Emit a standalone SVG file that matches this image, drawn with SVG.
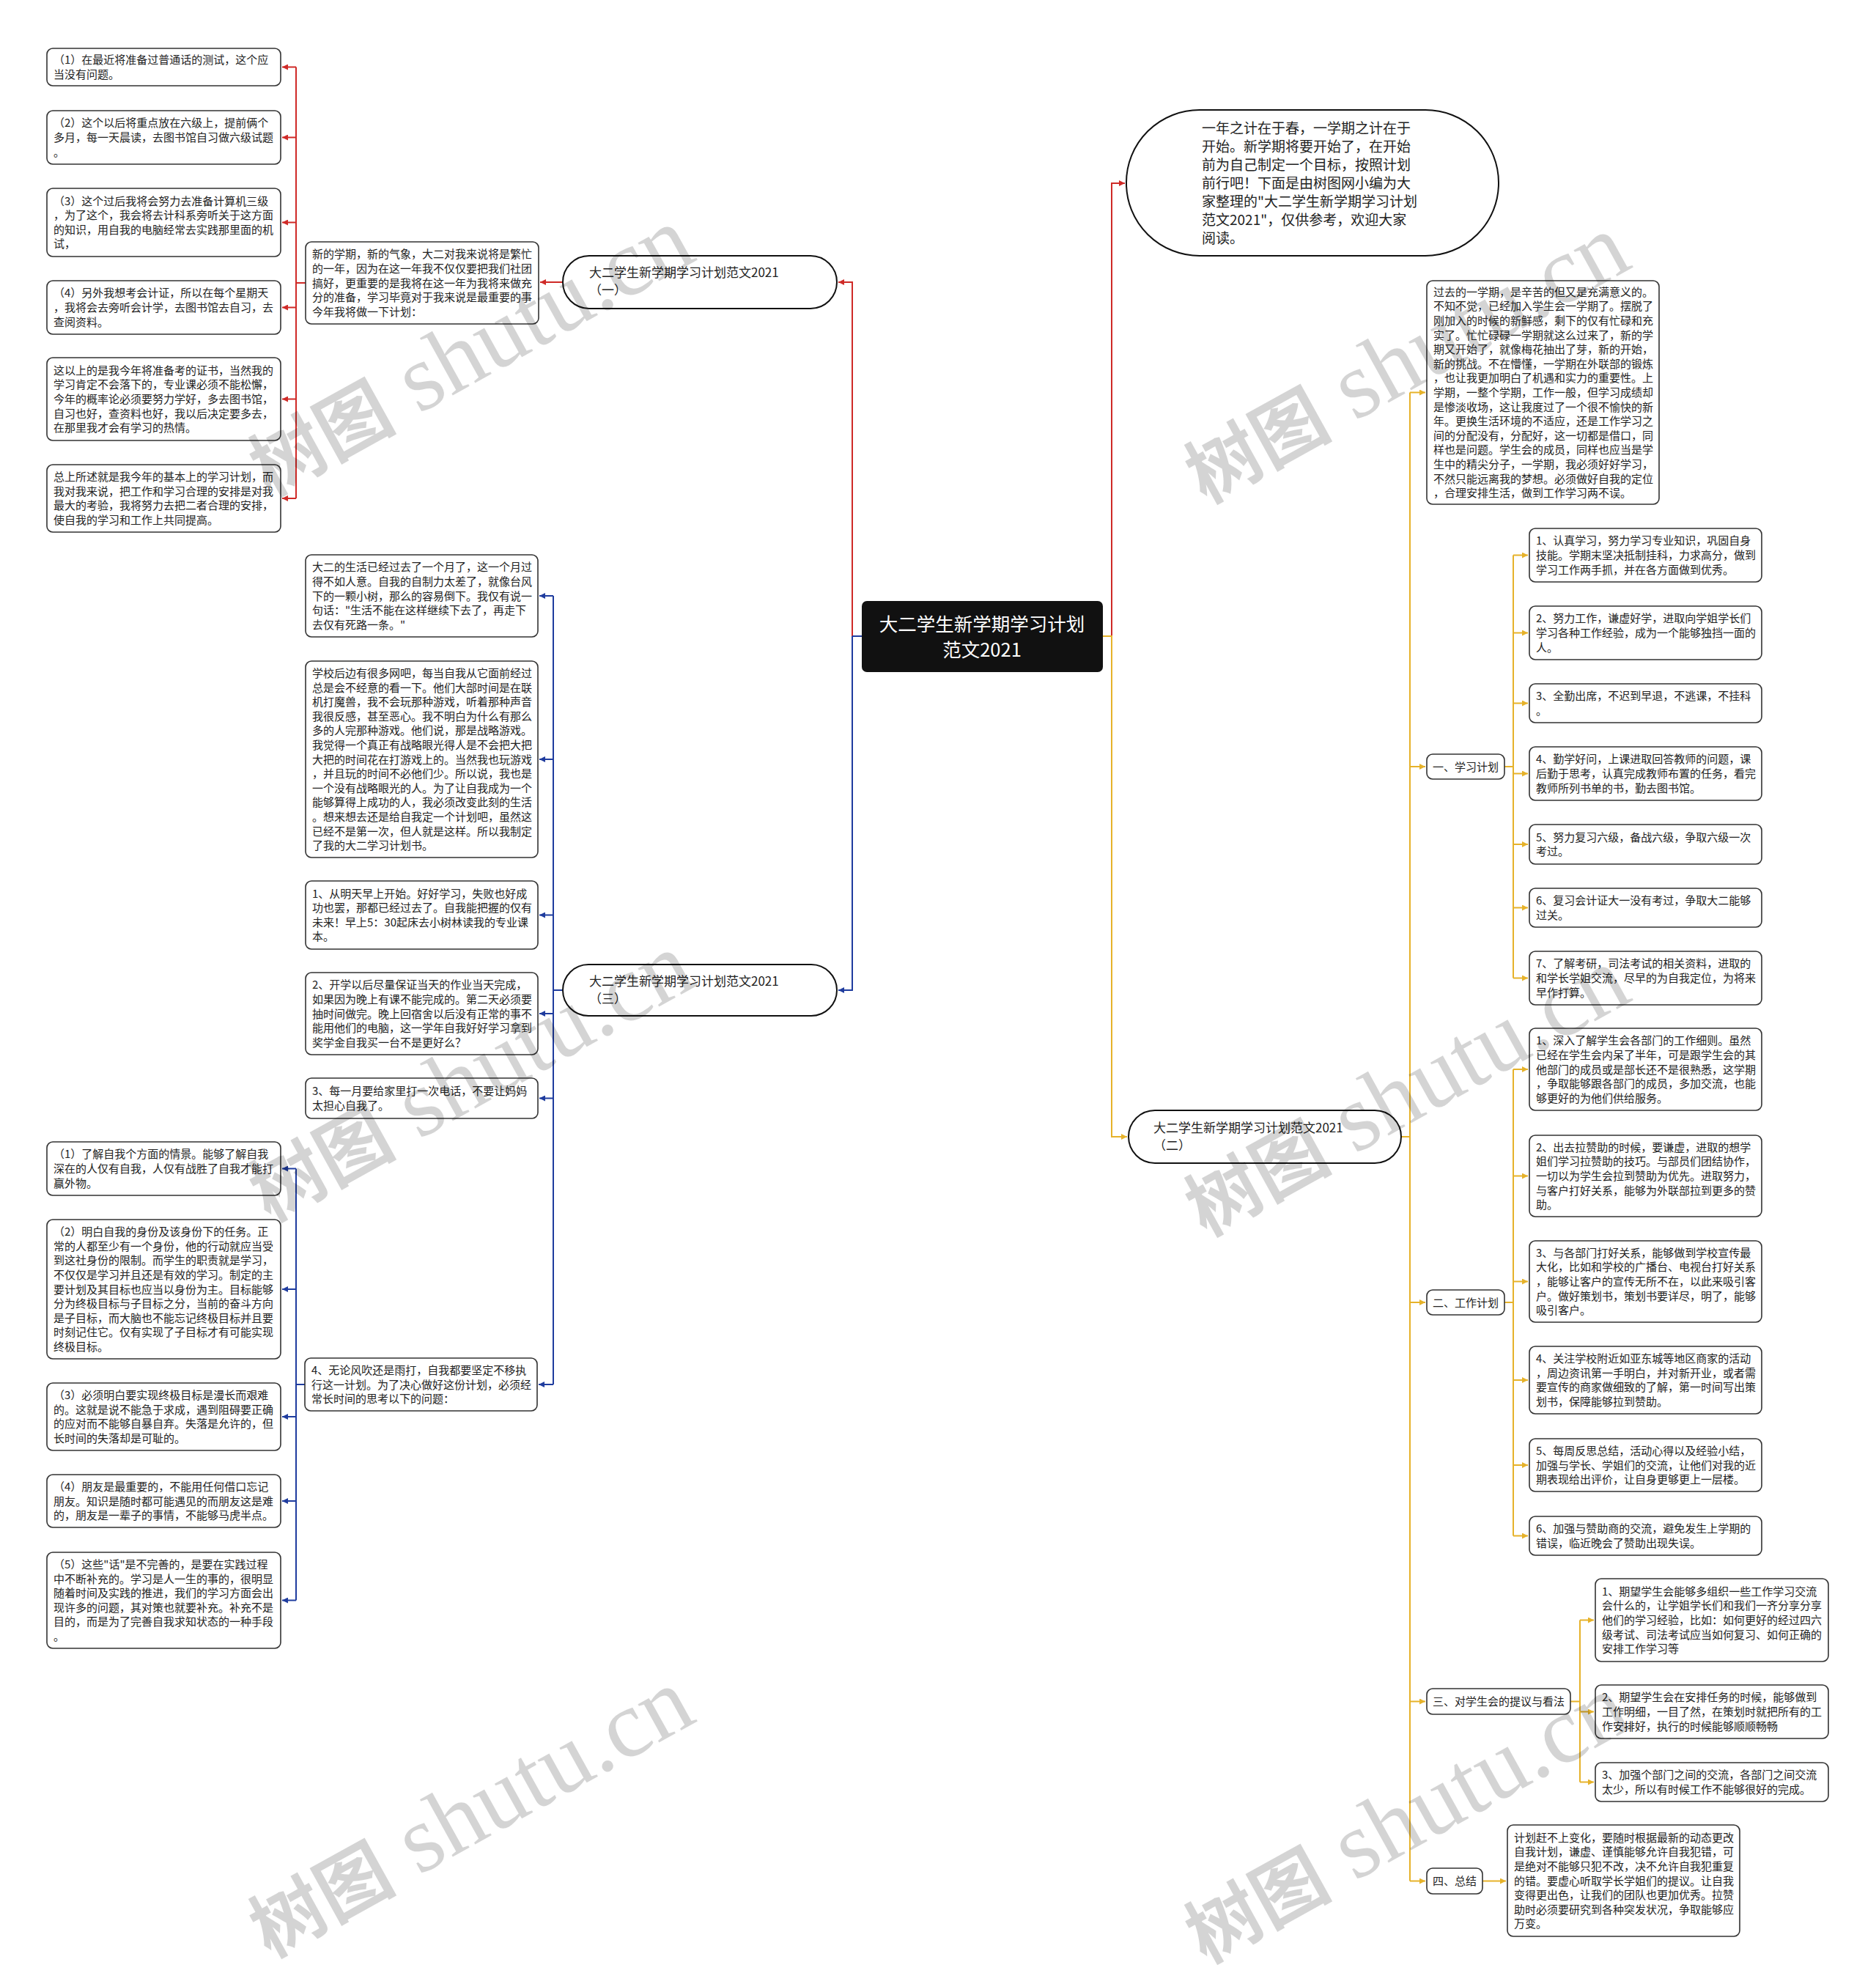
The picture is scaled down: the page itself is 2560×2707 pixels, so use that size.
<svg xmlns="http://www.w3.org/2000/svg" width="2560" height="2707" viewBox="0 0 2560 2707">
<style>
.bg{fill:#ffffff}
.box{fill:#ffffff;stroke:#333333;stroke-width:1.6}
.pill{fill:#ffffff;stroke:#111111;stroke-width:2}
.t{font-family:"Noto Sans CJK SC","Noto Sans",sans-serif;font-size:15px;fill:#222222}
.tb{font-family:"Noto Sans CJK SC","Noto Sans",sans-serif;font-size:17px;fill:#222222}
.ti{font-family:"Noto Sans CJK SC","Noto Sans",sans-serif;font-size:19px;fill:#222222}
.tc{font-family:"Noto Sans CJK SC","Noto Sans",sans-serif;font-size:25.5px;fill:#ffffff;text-anchor:middle}
.red{fill:none;stroke:#cf2a27;stroke-width:2}
.blue{fill:none;stroke:#1f3c9e;stroke-width:2}
.gold{fill:none;stroke:#e6b22a;stroke-width:2}
.ar{marker-end:url(#mr)}
.ab{marker-end:url(#mb)}
.ag{marker-end:url(#mg)}
.wm{fill:#000000;fill-opacity:0.17}
.wmc{font-family:"Noto Sans CJK SC",sans-serif;font-size:100px;font-weight:bold}
.wml{font-family:"Liberation Serif",serif;font-size:130px}
</style>
<defs>
<marker id="mr" viewBox="0 0 10 10" refX="10" refY="5" markerWidth="9" markerHeight="8" markerUnits="userSpaceOnUse" orient="auto"><path d="M0,0 L10,5 L0,10 z" fill="#cf2a27"/></marker>
<marker id="mb" viewBox="0 0 10 10" refX="10" refY="5" markerWidth="9" markerHeight="8" markerUnits="userSpaceOnUse" orient="auto"><path d="M0,0 L10,5 L0,10 z" fill="#1f3c9e"/></marker>
<marker id="mg" viewBox="0 0 10 10" refX="10" refY="5" markerWidth="9" markerHeight="8" markerUnits="userSpaceOnUse" orient="auto"><path d="M0,0 L10,5 L0,10 z" fill="#e6b22a"/></marker>
</defs>
<rect class="bg" x="0" y="0" width="2560" height="2707"/>

<g id="connectors">
<!-- red group -->
<path class="red ar" d="M1163,868 V385 H1144"/>
<path class="red ar" d="M768,385 H737"/>
<path class="red" d="M417,386 H404 M404,91.5 V680"/>
<path class="red ar" d="M404,91.5 H385"/>
<path class="red ar" d="M404,187.5 H385"/>
<path class="red ar" d="M404,303.5 H385"/>
<path class="red ar" d="M404,419.5 H385"/>
<path class="red ar" d="M404,544.5 H385"/>
<path class="red ar" d="M404,680 H385"/>
<path class="red ar" d="M1517,868 V250 H1535"/>
<!-- blue group -->
<path class="blue" d="M1176,868 H1163"/>
<path class="blue ab" d="M1163,868 V1351 H1144"/>
<path class="blue" d="M768,1351 H755 M755,813 V1889"/>
<path class="blue ab" d="M755,813 H736"/>
<path class="blue ab" d="M755,1036 H736"/>
<path class="blue ab" d="M755,1248.5 H736"/>
<path class="blue ab" d="M755,1383 H736"/>
<path class="blue ab" d="M755,1498.5 H736"/>
<path class="blue ab" d="M755,1889 H735"/>
<path class="blue" d="M416,1889 H404 M404,1594.5 V2183.5"/>
<path class="blue ab" d="M404,1594.5 H385"/>
<path class="blue ab" d="M404,1759 H385"/>
<path class="blue ab" d="M404,1933 H385"/>
<path class="blue ab" d="M404,2048 H385"/>
<path class="blue ab" d="M404,2183.5 H385"/>
<!-- gold group -->
<path class="gold ag" d="M1505,868 H1517 V1551 H1538"/>
<path class="gold" d="M1912,1551 H1924 M1924,535.5 V2566.5"/>
<path class="gold ag" d="M1924,535.5 H1945"/>
<path class="gold ag" d="M1924,1046 H1945"/>
<path class="gold ag" d="M1924,1777 H1945"/>
<path class="gold ag" d="M1924,2321.5 H1945"/>
<path class="gold ag" d="M1924,2566.5 H1945"/>
<path class="gold" d="M2053,1046 H2065 M2065,757.5 V1334.5"/>
<path class="gold ag" d="M2065,757.5 H2085"/>
<path class="gold ag" d="M2065,863.5 H2085"/>
<path class="gold ag" d="M2065,959.5 H2085"/>
<path class="gold ag" d="M2065,1055.5 H2085"/>
<path class="gold ag" d="M2065,1152 H2085"/>
<path class="gold ag" d="M2065,1238.5 H2085"/>
<path class="gold ag" d="M2065,1334.5 H2085"/>
<path class="gold" d="M2053,1777 H2065 M2065,1459 V2095.5"/>
<path class="gold ag" d="M2065,1459 H2085"/>
<path class="gold ag" d="M2065,1604.5 H2085"/>
<path class="gold ag" d="M2065,1748.5 H2085"/>
<path class="gold ag" d="M2065,1883 H2085"/>
<path class="gold ag" d="M2065,1999 H2085"/>
<path class="gold ag" d="M2065,2095.5 H2085"/>
<path class="gold" d="M2143,2321.5 H2156 M2156,2210.5 V2431.5"/>
<path class="gold ag" d="M2156,2210.5 H2175"/>
<path class="gold ag" d="M2156,2335.5 H2175"/>
<path class="gold ag" d="M2156,2431.5 H2175"/>
<path class="gold ag" d="M2023,2566.5 H2055"/>
</g>

<g id="center">
<rect x="1176" y="820" width="329" height="97" rx="7" fill="#111111"/>
<text class="tc" x="1340" y="860.5">大二学生新学期学习计划</text>
<text class="tc" x="1340" y="895.5">范文2021</text>
</g>

<g id="branch1">
<rect class="pill" x="768" y="349" width="374" height="72" rx="36"/>
<text class="tb" x="804" y="378.3">大二学生新学期学习计划范文2021<tspan x="804" dy="24">（一）</tspan></text>
</g>
<g id="branch3">
<rect class="pill" x="768" y="1316" width="374" height="70" rx="35"/>
<text class="tb" x="804" y="1345.3">大二学生新学期学习计划范文2021<tspan x="804" dy="24">（三）</tspan></text>
</g>
<g id="branch2">
<rect class="pill" x="1540" y="1515" width="372" height="72" rx="36"/>
<text class="tb" x="1574" y="1544.5">大二学生新学期学习计划范文2021<tspan x="1574" dy="24.5">（二）</tspan></text>
</g>
<g id="intro">
<rect class="pill" x="1537" y="150" width="508" height="199" rx="100" ry="99"/>
<text class="ti" x="1640" y="182">一年之计在于春，一学期之计在于<tspan x="1640" dy="25">开始。新学期将要开始了，在开始</tspan><tspan x="1640" dy="25">前为自己制定一个目标，按照计划</tspan><tspan x="1640" dy="25">前行吧！下面是由树图网小编为大</tspan><tspan x="1640" dy="25">家整理的"大二学生新学期学习计划</tspan><tspan x="1640" dy="25">范文2021"，仅供参考，欢迎大家</tspan><tspan x="1640" dy="25">阅读。</tspan></text>
</g>

<!-- red group nodes -->
<g id="n1-intro">
<rect class="box" x="417" y="330" width="318" height="112" rx="8"/>
<text class="t" x="426" y="352.3">新的学期，新的气象，大二对我来说将是繁忙<tspan x="426" dy="19.6">的一年，因为在这一年我不仅仅要把我们社团</tspan><tspan x="426" dy="19.6">搞好，更重要的是我将在这一年为我将来做充</tspan><tspan x="426" dy="19.6">分的准备，学习毕竟对于我来说是最重要的事</tspan><tspan x="426" dy="19.6">今年我将做一下计划：</tspan></text>
</g>
<g id="n1-1">
<rect class="box" x="64" y="66" width="319" height="51" rx="8"/>
<text class="t" x="73" y="87.2">（1）在最近将准备过普通话的测试，这个应<tspan x="73" dy="19.6">当没有问题。</tspan></text>
</g>
<g id="n1-2">
<rect class="box" x="64" y="151" width="319" height="73" rx="8"/>
<text class="t" x="73" y="173.4">（2）这个以后将重点放在六级上，提前俩个<tspan x="73" dy="19.6">多月，每一天晨读，去图书馆自习做六级试题</tspan><tspan x="73" dy="19.6">。</tspan></text>
</g>
<g id="n1-3">
<rect class="box" x="64" y="257" width="319" height="93" rx="8"/>
<text class="t" x="73" y="279.6">（3）这个过后我将会努力去准备计算机三级<tspan x="73" dy="19.6">，为了这个，我会将去计科系旁听关于这方面</tspan><tspan x="73" dy="19.6">的知识，用自我的电脑经常去实践那里面的机</tspan><tspan x="73" dy="19.6">试，</tspan></text>
</g>
<g id="n1-4">
<rect class="box" x="64" y="383" width="319" height="73" rx="8"/>
<text class="t" x="73" y="405.4">（4）另外我想考会计证，所以在每个星期天<tspan x="73" dy="19.6">，我将会去旁听会计学，去图书馆去自习，去</tspan><tspan x="73" dy="19.6">查阅资料。</tspan></text>
</g>
<g id="n1-5">
<rect class="box" x="64" y="488" width="319" height="113" rx="8"/>
<text class="t" x="73" y="510.8">这以上的是我今年将准备考的证书，当然我的<tspan x="73" dy="19.6">学习肯定不会落下的，专业课必须不能松懈，</tspan><tspan x="73" dy="19.6">今年的概率论必须要努力学好，多去图书馆，</tspan><tspan x="73" dy="19.6">自习也好，查资料也好，我以后决定要多去，</tspan><tspan x="73" dy="19.6">在那里我才会有学习的热情。</tspan></text>
</g>
<g id="n1-6">
<rect class="box" x="64" y="634" width="319" height="92" rx="8"/>
<text class="t" x="73" y="656.1">总上所述就是我今年的基本上的学习计划，而<tspan x="73" dy="19.6">我对我来说，把工作和学习合理的安排是对我</tspan><tspan x="73" dy="19.6">最大的考验，我将努力去把二者合理的安排，</tspan><tspan x="73" dy="19.6">使自我的学习和工作上共同提高。</tspan></text>
</g>

<!-- blue group nodes -->
<g id="n3-1">
<rect class="box" x="417" y="757" width="317" height="112" rx="8"/>
<text class="t" x="426" y="779.3">大二的生活已经过去了一个月了，这一个月过<tspan x="426" dy="19.6">得不如人意。自我的自制力太差了，就像台风</tspan><tspan x="426" dy="19.6">下的一颗小树，那么的容易倒下。我仅有说一</tspan><tspan x="426" dy="19.6">句话："生活不能在这样继续下去了，再走下</tspan><tspan x="426" dy="19.6">去仅有死路一条。"</tspan></text>
</g>
<g id="n3-2">
<rect class="box" x="417" y="902" width="317" height="268" rx="8"/>
<text class="t" x="426" y="923.9">学校后边有很多网吧，每当自我从它面前经过<tspan x="426" dy="19.6">总是会不经意的看一下。他们大部时间是在联</tspan><tspan x="426" dy="19.6">机打魔兽，我不会玩那种游戏，听着那种声音</tspan><tspan x="426" dy="19.6">我很反感，甚至恶心。我不明白为什么有那么</tspan><tspan x="426" dy="19.6">多的人完那种游戏。他们说，那是战略游戏。</tspan><tspan x="426" dy="19.6">我觉得一个真正有战略眼光得人是不会把大把</tspan><tspan x="426" dy="19.6">大把的时间花在打游戏上的。当然我也玩游戏</tspan><tspan x="426" dy="19.6">，并且玩的时间不必他们少。所以说，我也是</tspan><tspan x="426" dy="19.6">一个没有战略眼光的人。为了让自我成为一个</tspan><tspan x="426" dy="19.6">能够算得上成功的人，我必须改变此刻的生活</tspan><tspan x="426" dy="19.6">。想来想去还是给自我定一个计划吧，虽然这</tspan><tspan x="426" dy="19.6">已经不是第一次，但人就是这样。所以我制定</tspan><tspan x="426" dy="19.6">了我的大二学习计划书。</tspan></text>
</g>
<g id="n3-3">
<rect class="box" x="417" y="1202" width="317" height="93" rx="8"/>
<text class="t" x="426" y="1224.6">1、从明天早上开始。好好学习，失败也好成<tspan x="426" dy="19.6">功也罢，那都已经过去了。自我能把握的仅有</tspan><tspan x="426" dy="19.6">未来！早上5：30起床去小树林读我的专业课</tspan><tspan x="426" dy="19.6">本。</tspan></text>
</g>
<g id="n3-4">
<rect class="box" x="417" y="1327" width="317" height="112" rx="8"/>
<text class="t" x="426" y="1349.3">2、开学以后尽量保证当天的作业当天完成，<tspan x="426" dy="19.6">如果因为晚上有课不能完成的。第二天必须要</tspan><tspan x="426" dy="19.6">抽时间做完。晚上回宿舍以后没有正常的事不</tspan><tspan x="426" dy="19.6">能用他们的电脑，这一学年自我好好学习拿到</tspan><tspan x="426" dy="19.6">奖学金自我买一台不是更好么？</tspan></text>
</g>
<g id="n3-5">
<rect class="box" x="417" y="1471" width="317" height="55" rx="8"/>
<text class="t" x="426" y="1494.2">3、每一月要给家里打一次电话，不要让妈妈<tspan x="426" dy="19.6">太担心自我了。</tspan></text>
</g>
<g id="n3-6">
<rect class="box" x="416" y="1853" width="317" height="72" rx="8"/>
<text class="t" x="425" y="1874.9">4、无论风吹还是雨打，自我都要坚定不移执<tspan x="425" dy="19.6">行这一计划。为了决心做好这份计划，必须经</tspan><tspan x="425" dy="19.6">常长时间的思考以下的问题：</tspan></text>
</g>
<g id="n3-6-1">
<rect class="box" x="64" y="1558" width="319" height="73" rx="8"/>
<text class="t" x="73" y="1580.4">（1）了解自我个方面的情景。能够了解自我<tspan x="73" dy="19.6">深在的人仅有自我，人仅有战胜了自我才能打</tspan><tspan x="73" dy="19.6">赢外物。</tspan></text>
</g>
<g id="n3-6-2">
<rect class="box" x="64" y="1664" width="319" height="190" rx="8"/>
<text class="t" x="73" y="1686.1">（2）明白自我的身份及该身份下的任务。正<tspan x="73" dy="19.6">常的人都至少有一个身份，他的行动就应当受</tspan><tspan x="73" dy="19.6">到这社身份的限制。而学生的职责就是学习，</tspan><tspan x="73" dy="19.6">不仅仅是学习并且还是有效的学习。制定的主</tspan><tspan x="73" dy="19.6">要计划及其目标也应当以身份为主。目标能够</tspan><tspan x="73" dy="19.6">分为终极目标与子目标之分，当前的奋斗方向</tspan><tspan x="73" dy="19.6">是子目标，而大脑也不能忘记终极目标并且要</tspan><tspan x="73" dy="19.6">时刻记住它。仅有实现了子目标才有可能实现</tspan><tspan x="73" dy="19.6">终极目标。</tspan></text>
</g>
<g id="n3-6-3">
<rect class="box" x="64" y="1887" width="319" height="92" rx="8"/>
<text class="t" x="73" y="1909.1">（3）必须明白要实现终极目标是漫长而艰难<tspan x="73" dy="19.6">的。这就是说不能急于求成，遇到阻碍要正确</tspan><tspan x="73" dy="19.6">的应对而不能够自暴自弃。失落是允许的，但</tspan><tspan x="73" dy="19.6">长时间的失落却是可耻的。</tspan></text>
</g>
<g id="n3-6-4">
<rect class="box" x="64" y="2012" width="319" height="72" rx="8"/>
<text class="t" x="73" y="2033.9">（4）朋友是最重要的，不能用任何借口忘记<tspan x="73" dy="19.6">朋友。知识是随时都可能遇见的而朋友这是难</tspan><tspan x="73" dy="19.6">的，朋友是一辈子的事情，不能够马虎半点。</tspan></text>
</g>
<g id="n3-6-5">
<rect class="box" x="64" y="2118" width="319" height="131" rx="8"/>
<text class="t" x="73" y="2140">（5）这些"话"是不完善的，是要在实践过程<tspan x="73" dy="19.6">中不断补充的。学习是人一生的事的，很明显</tspan><tspan x="73" dy="19.6">随着时间及实践的推进，我们的学习方面会出</tspan><tspan x="73" dy="19.6">现许多的问题，其对策也就要补充。补充不是</tspan><tspan x="73" dy="19.6">目的，而是为了完善自我求知状态的一种手段</tspan><tspan x="73" dy="19.6">。</tspan></text>
</g>

<!-- gold group nodes -->
<g id="n2-0">
<rect class="box" x="1947" y="383" width="317" height="305" rx="8"/>
<text class="t" x="1956" y="403.8">过去的一学期，是辛苦的但又是充满意义的。<tspan x="1956" dy="19.6">不知不觉，已经加入学生会一学期了。摆脱了</tspan><tspan x="1956" dy="19.6">刚加入的时候的新鲜感，剩下的仅有忙碌和充</tspan><tspan x="1956" dy="19.6">实了。忙忙碌碌一学期就这么过来了，新的学</tspan><tspan x="1956" dy="19.6">期又开始了，就像梅花抽出了芽，新的开始，</tspan><tspan x="1956" dy="19.6">新的挑战。不在懵懂，一学期在外联部的锻炼</tspan><tspan x="1956" dy="19.6">，也让我更加明白了机遇和实力的重要性。上</tspan><tspan x="1956" dy="19.6">学期，一整个学期，工作一般，但学习成绩却</tspan><tspan x="1956" dy="19.6">是惨淡收场，这让我度过了一个很不愉快的新</tspan><tspan x="1956" dy="19.6">年。更换生活环境的不适应，还是工作学习之</tspan><tspan x="1956" dy="19.6">间的分配没有，分配好，这一切都是借口，同</tspan><tspan x="1956" dy="19.6">样也是问题。学生会的成员，同样也应当是学</tspan><tspan x="1956" dy="19.6">生中的精尖分子，一学期，我必须好好学习，</tspan><tspan x="1956" dy="19.6">不然只能远离我的梦想。必须做好自我的定位</tspan><tspan x="1956" dy="19.6">，合理安排生活，做到工作学习两不误。</tspan></text>
</g>
<g id="n2-1">
<rect class="box" x="1947" y="1029" width="106" height="34" rx="8"/>
<text class="t" x="1955" y="1051.5">一、学习计划</text>
</g>
<g id="n2-2">
<rect class="box" x="1947" y="1760" width="106" height="34" rx="8"/>
<text class="t" x="1955" y="1782.5">二、工作计划</text>
</g>
<g id="n2-3">
<rect class="box" x="1947" y="2304" width="196" height="35" rx="8"/>
<text class="t" x="1955" y="2327">三、对学生会的提议与看法</text>
</g>
<g id="n2-4">
<rect class="box" x="1947" y="2549" width="76" height="35" rx="8"/>
<text class="t" x="1955" y="2572">四、总结</text>
</g>
<g id="s1">
<rect class="box" x="2087" y="721" width="317" height="73" rx="8"/>
<text class="t" x="2096" y="743.4">1、认真学习，努力学习专业知识，巩固自身<tspan x="2096" dy="19.6">技能。学期末坚决抵制挂科，力求高分，做到</tspan><tspan x="2096" dy="19.6">学习工作两手抓，并在各方面做到优秀。</tspan></text>
</g>
<g id="s2">
<rect class="box" x="2087" y="827" width="317" height="73" rx="8"/>
<text class="t" x="2096" y="849.4">2、努力工作，谦虚好学，进取向学姐学长们<tspan x="2096" dy="19.6">学习各种工作经验，成为一个能够独挡一面的</tspan><tspan x="2096" dy="19.6">人。</tspan></text>
</g>
<g id="s3">
<rect class="box" x="2087" y="933" width="317" height="53" rx="8"/>
<text class="t" x="2096" y="955.2">3、全勤出席，不迟到早退，不逃课，不挂科<tspan x="2096" dy="19.6">。</tspan></text>
</g>
<g id="s4">
<rect class="box" x="2087" y="1019" width="317" height="73" rx="8"/>
<text class="t" x="2096" y="1041.4">4、勤学好问，上课进取回答教师的问题，课<tspan x="2096" dy="19.6">后勤于思考，认真完成教师布置的任务，看完</tspan><tspan x="2096" dy="19.6">教师所列书单的书，勤去图书馆。</tspan></text>
</g>
<g id="s5">
<rect class="box" x="2087" y="1125" width="317" height="54" rx="8"/>
<text class="t" x="2096" y="1147.7">5、努力复习六级，备战六级，争取六级一次<tspan x="2096" dy="19.6">考过。</tspan></text>
</g>
<g id="s6">
<rect class="box" x="2087" y="1212" width="317" height="53" rx="8"/>
<text class="t" x="2096" y="1234.2">6、复习会计证大一没有考过，争取大二能够<tspan x="2096" dy="19.6">过关。</tspan></text>
</g>
<g id="s7">
<rect class="box" x="2087" y="1298" width="317" height="73" rx="8"/>
<text class="t" x="2096" y="1320.4">7、了解考研，司法考试的相关资料，进取的<tspan x="2096" dy="19.6">和学长学姐交流，尽早的为自我定位，为将来</tspan><tspan x="2096" dy="19.6">早作打算。</tspan></text>
</g>
<g id="w1">
<rect class="box" x="2087" y="1403" width="317" height="112" rx="8"/>
<text class="t" x="2096" y="1425.3">1、深入了解学生会各部门的工作细则。虽然<tspan x="2096" dy="19.6">已经在学生会内呆了半年，可是跟学生会的其</tspan><tspan x="2096" dy="19.6">他部门的成员或是部长还不是很熟悉，这学期</tspan><tspan x="2096" dy="19.6">，争取能够跟各部门的成员，多加交流，也能</tspan><tspan x="2096" dy="19.6">够更好的为他们供给服务。</tspan></text>
</g>
<g id="w2">
<rect class="box" x="2087" y="1549" width="317" height="111" rx="8"/>
<text class="t" x="2096" y="1570.8">2、出去拉赞助的时候，要谦虚，进取的想学<tspan x="2096" dy="19.6">姐们学习拉赞助的技巧。与部员们团结协作，</tspan><tspan x="2096" dy="19.6">一切以为学生会拉到赞助为优先。进取努力，</tspan><tspan x="2096" dy="19.6">与客户打好关系，能够为外联部拉到更多的赞</tspan><tspan x="2096" dy="19.6">助。</tspan></text>
</g>
<g id="w3">
<rect class="box" x="2087" y="1693" width="317" height="111" rx="8"/>
<text class="t" x="2096" y="1714.8">3、与各部门打好关系，能够做到学校宣传最<tspan x="2096" dy="19.6">大化，比如和学校的广播台、电视台打好关系</tspan><tspan x="2096" dy="19.6">，能够让客户的宣传无所不在，以此来吸引客</tspan><tspan x="2096" dy="19.6">户。做好策划书，策划书要详尽，明了，能够</tspan><tspan x="2096" dy="19.6">吸引客户。</tspan></text>
</g>
<g id="w4">
<rect class="box" x="2087" y="1837" width="317" height="92" rx="8"/>
<text class="t" x="2096" y="1859.1">4、关注学校附近如亚东城等地区商家的活动<tspan x="2096" dy="19.6">，周边资讯第一手明白，并对新开业，或者需</tspan><tspan x="2096" dy="19.6">要宣传的商家做细致的了解，第一时间写出策</tspan><tspan x="2096" dy="19.6">划书，保障能够拉到赞助。</tspan></text>
</g>
<g id="w5">
<rect class="box" x="2087" y="1963" width="317" height="72" rx="8"/>
<text class="t" x="2096" y="1984.9">5、每周反思总结，活动心得以及经验小结，<tspan x="2096" dy="19.6">加强与学长、学姐们的交流，让他们对我的近</tspan><tspan x="2096" dy="19.6">期表现给出评价，让自身更够更上一层楼。</tspan></text>
</g>
<g id="w6">
<rect class="box" x="2087" y="2069" width="317" height="53" rx="8"/>
<text class="t" x="2096" y="2091.2">6、加强与赞助商的交流，避免发生上学期的<tspan x="2096" dy="19.6">错误，临近晚会了赞助出现失误。</tspan></text>
</g>
<g id="g1">
<rect class="box" x="2177" y="2154" width="318" height="113" rx="8"/>
<text class="t" x="2186" y="2176.8">1、期望学生会能够多组织一些工作学习交流<tspan x="2186" dy="19.6">会什么的，让学姐学长们和我们一齐分享分享</tspan><tspan x="2186" dy="19.6">他们的学习经验，比如：如何更好的经过四六</tspan><tspan x="2186" dy="19.6">级考试、司法考试应当如何复习、如何正确的</tspan><tspan x="2186" dy="19.6">安排工作学习等</tspan></text>
</g>
<g id="g2">
<rect class="box" x="2177" y="2299" width="318" height="73" rx="8"/>
<text class="t" x="2186" y="2321.4">2、期望学生会在安排任务的时候，能够做到<tspan x="2186" dy="19.6">工作明细，一目了然，在策划时就把所有的工</tspan><tspan x="2186" dy="19.6">作安排好，执行的时候能够顺顺畅畅</tspan></text>
</g>
<g id="g3">
<rect class="box" x="2177" y="2405" width="318" height="53" rx="8"/>
<text class="t" x="2186" y="2427.2">3、加强个部门之间的交流，各部门之间交流<tspan x="2186" dy="19.6">太少，所以有时候工作不能够很好的完成。</tspan></text>
</g>
<g id="summary">
<rect class="box" x="2057" y="2490" width="317" height="152" rx="8"/>
<text class="t" x="2066" y="2512.7">计划赶不上变化，要随时根据最新的动态更改<tspan x="2066" dy="19.6">自我计划，谦虚、谨慎能够允许自我犯错，可</tspan><tspan x="2066" dy="19.6">是绝对不能够只犯不改，决不允许自我犯重复</tspan><tspan x="2066" dy="19.6">的错。要虚心听取学长学姐们的提议。让自我</tspan><tspan x="2066" dy="19.6">变得更出色，让我们的团队也更加优秀。拉赞</tspan><tspan x="2066" dy="19.6">助时必须要研究到各种突发状况，争取能够应</tspan><tspan x="2066" dy="19.6">万变。</tspan></text>
</g>

<g id="watermarks">
<text class="wm" transform="translate(368,678) rotate(-29)"><tspan class="wmc">树图</tspan><tspan class="wml"> shutu.cn</tspan></text>
<text class="wm" transform="translate(1645,688) rotate(-29)"><tspan class="wmc">树图</tspan><tspan class="wml"> shutu.cn</tspan></text>
<text class="wm" transform="translate(368,1668) rotate(-29)"><tspan class="wmc">树图</tspan><tspan class="wml"> shutu.cn</tspan></text>
<text class="wm" transform="translate(1645,1688) rotate(-29)"><tspan class="wmc">树图</tspan><tspan class="wml"> shutu.cn</tspan></text>
<text class="wm" transform="translate(368,2672) rotate(-29)"><tspan class="wmc">树图</tspan><tspan class="wml"> shutu.cn</tspan></text>
<text class="wm" transform="translate(1645,2680) rotate(-29)"><tspan class="wmc">树图</tspan><tspan class="wml"> shutu.cn</tspan></text>
</g>
</svg>
